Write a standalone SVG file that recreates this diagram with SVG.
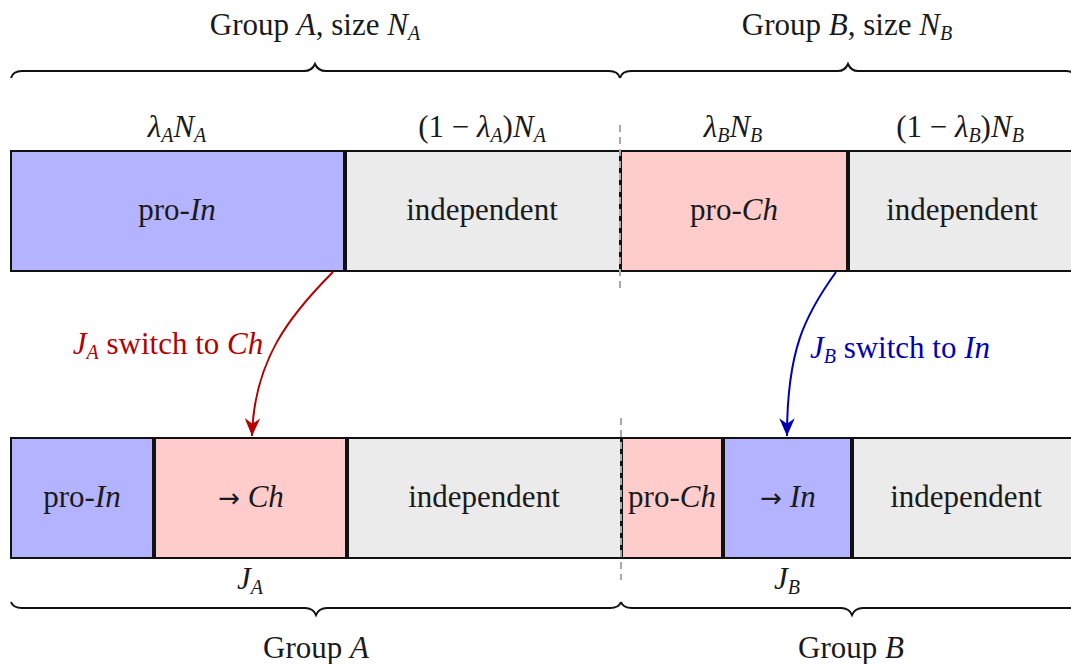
<svg xmlns="http://www.w3.org/2000/svg" width="1071" height="664" viewBox="0 0 1071 664" font-family="Liberation Serif, DejaVu Serif, serif">
<style>
text{font-family:"Liberation Serif","DejaVu Serif",serif;font-size:31px;fill:#1a1a1a;text-anchor:middle}
.i{font-style:italic}
.s{font-size:20px;font-style:italic}
.ar{font-family:"DejaVu Sans",sans-serif;font-size:26px}
.box{stroke:#111;stroke-width:2}
.blue{fill:#b3b3ff}
.red{fill:#ffcccc}
.gray{fill:#ebebeb}
.brace{fill:none;stroke:#111;stroke-width:2}
.dash{stroke:#aaa;stroke-width:2;stroke-dasharray:7,5;fill:none}
</style>
<defs>
<marker id="ahR" markerWidth="20" markerHeight="20" viewBox="-17 -8 18 16" refX="0" refY="0" orient="auto" markerUnits="userSpaceOnUse">
<path d="M0,0 L-16,-7 L-11,0 L-16,7 z" fill="#b30000"/>
</marker>
<marker id="ahB" markerWidth="20" markerHeight="20" viewBox="-17 -8 18 16" refX="0" refY="0" orient="auto" markerUnits="userSpaceOnUse">
<path d="M0,0 L-16,-7 L-11,0 L-16,7 z" fill="#0000b3"/>
</marker>
</defs>
<rect width="1071" height="664" fill="#fff"/>

<g id="labels-top">
<text x="315" y="35">Group <tspan class="i">A</tspan>, size <tspan class="i">N</tspan><tspan class="s" dy="5">A</tspan></text>
<text x="847" y="35">Group <tspan class="i">B</tspan>, size <tspan class="i">N</tspan><tspan class="s" dy="5">B</tspan></text>
<text x="177" y="137"><tspan class="i">λ</tspan><tspan class="s" dy="5">A</tspan><tspan class="i" dy="-5">N</tspan><tspan class="s" dy="5">A</tspan></text>
<text x="482" y="137">(1 − <tspan class="i">λ</tspan><tspan class="s" dy="5">A</tspan><tspan dy="-5">)</tspan><tspan class="i">N</tspan><tspan class="s" dy="5">A</tspan></text>
<text x="733" y="137"><tspan class="i">λ</tspan><tspan class="s" dy="5">B</tspan><tspan class="i" dy="-5">N</tspan><tspan class="s" dy="5">B</tspan></text>
<text x="960" y="137">(1 − <tspan class="i">λ</tspan><tspan class="s" dy="5">B</tspan><tspan dy="-5">)</tspan><tspan class="i">N</tspan><tspan class="s" dy="5">B</tspan></text>
</g>

<g id="brace-top">
<path class="brace" d="M11,78 Q13,71 22,71 L304,71 Q312,71 315,64 Q318,71 326,71 L609,71 Q618,71 620,78"/>
<path class="brace" d="M620,78 Q622,71 631,71 L838,71 Q845,71 848,64 Q851,71 858,71 L1066,71 Q1074,71 1076,78"/>
</g>

<g id="top-proIn">
<rect class="box blue" x="11" y="151" width="333" height="120"/>
<text x="177" y="220">pro-<tspan class="i">In</tspan></text>
</g>
<g id="top-indepA">
<rect class="box gray" x="346" y="151" width="274" height="120"/>
<text x="482" y="220">independent</text>
</g>
<g id="top-proCh">
<rect class="box red" x="621" y="151" width="226" height="120"/>
<text x="734" y="220">pro-<tspan class="i">Ch</tspan></text>
</g>
<g id="top-indepB">
<rect class="box gray" x="849" y="151" width="240" height="120"/>
<text x="962" y="220">independent</text>
</g>

<g id="bot-proIn">
<rect class="box blue" x="11" y="438" width="142" height="120"/>
<text x="82" y="507">pro-<tspan class="i">In</tspan></text>
</g>
<g id="bot-toCh">
<rect class="box red" x="155" y="438" width="191" height="120"/>
<text x="251" y="507"><tspan class="ar">→</tspan> <tspan class="i">Ch</tspan></text>
</g>
<g id="bot-indepA">
<rect class="box gray" x="348" y="438" width="273" height="120"/>
<text x="484" y="507">independent</text>
</g>
<g id="bot-proCh">
<rect class="box red" x="622" y="438" width="100" height="120"/>
<text x="672" y="507">pro-<tspan class="i">Ch</tspan></text>
</g>
<g id="bot-toIn">
<rect class="box blue" x="724" y="438" width="127" height="120"/>
<text x="788" y="507"><tspan class="ar">→</tspan> <tspan class="i">In</tspan></text>
</g>
<g id="bot-indepB">
<rect class="box gray" x="853" y="438" width="240" height="120"/>
<text x="966" y="507">independent</text>
</g>

<g id="dividers">
<line class="dash" x1="620" y1="125" x2="620" y2="293"/>
<line class="dash" x1="621" y1="418" x2="621" y2="580"/>
</g>

<g id="connectors">
<path d="M333,272 C290,315 254,360 252,436" fill="none" stroke="#b30000" stroke-width="2" marker-end="url(#ahR)"/>
<path d="M836,272 C805,315 787,350 787,436" fill="none" stroke="#0000b3" stroke-width="2" marker-end="url(#ahB)"/>
<text x="168" y="354" style="fill:#b30000"><tspan class="i">J</tspan><tspan class="s" dy="5">A</tspan><tspan dy="-5"> switch to </tspan><tspan class="i">Ch</tspan></text>
<text x="900" y="358" style="fill:#0000b3"><tspan class="i">J</tspan><tspan class="s" dy="5">B</tspan><tspan dy="-5"> switch to </tspan><tspan class="i">In</tspan></text>
</g>

<g id="labels-bottom">
<text x="250" y="589"><tspan class="i">J</tspan><tspan class="s" dy="5">A</tspan></text>
<text x="787" y="589"><tspan class="i">J</tspan><tspan class="s" dy="5">B</tspan></text>
<text x="316" y="658">Group <tspan class="i">A</tspan></text>
<text x="851" y="658">Group <tspan class="i">B</tspan></text>
</g>

<g id="brace-bottom">
<path class="brace" d="M11,602 Q13,608 22,608 L305,608 Q313,608 316,615 Q319,608 327,608 L610,608 Q619,608 621,602"/>
<path class="brace" d="M621,602 Q623,608 632,608 L841,608 Q849,608 852,615 Q855,608 863,608 L1072,608 Q1081,608 1083,602"/>
</g>
</svg>
